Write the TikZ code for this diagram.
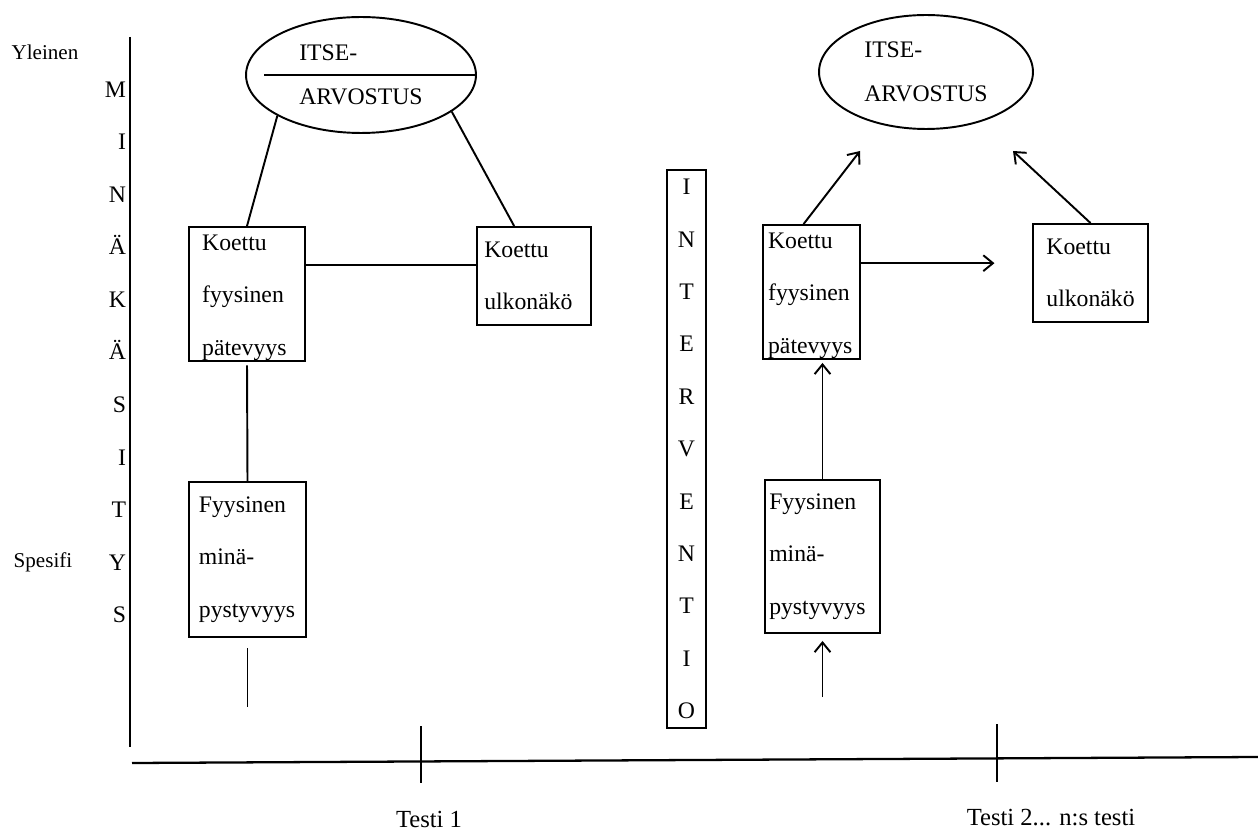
\documentclass[tikz,border=0pt]{standalone}
\usepackage{fontspec}
\setmainfont{Liberation Serif}
\usetikzlibrary{arrows.meta, calc, shapes.geometric}

\newcommand\ylos{\rule{0pt}{13pt}}

\begin{document}
\begin{tikzpicture}[x=0.02cm, y=-0.02cm, line width=1.1pt,
    kotelo/.style={draw, rectangle, align=left, inner ysep=0pt, font=\fontsize{13.5}{29.8}\selectfont},
    soikio/.style={draw, ellipse, inner sep=0pt, align=left, font=\fontsize{13.5}{25}\selectfont},
    nuoli/.style={-{Straight Barb[length=5.5pt, width=9pt]}}]

    \useasboundingbox (0,0) rectangle (1258,834);

    % akselit
    \coordinate (yla) at (130,37);
    \coordinate (ala) at (130,747);
    \draw[line width=1.2pt] (yla) -- (ala);
    \coordinate (vasen) at (132,763);
    \coordinate (oikea) at (1258,757);
    \draw[line width=1.3pt] (vasen) -- (oikea);
    \draw (421,726) -- (421,783);
    \draw (997,724) -- (997,782);

    \node (yleinen) at (45,52) {\fontsize{12}{14}\selectfont Yleinen};
    \node (spesifi) at (43,562) {\fontsize{12}{14}\selectfont Spesifi};
    \node (testi1) at (429,819) {\fontsize{14}{16}\selectfont Testi 1};
    \node (testi2) at (1051,818) {\fontsize{14}{16}\selectfont Testi 2... n:s testi};

    \foreach \kirjain [count=\i from 0] in {M,I,N,Ä,K,Ä,S,I,T,Y,S}
        \node[anchor=base east, inner sep=0pt, font=\fontsize{13.5}{16}\selectfont] (kirjain\i) at (127,{97.5+52.5*\i}) {\kirjain};

    \node[kotelo, align=center, text width=22pt, inner xsep=0pt, minimum height=11.16cm] (interventio) at (686.5,449) {I\\N\\T\\E\\R\\V\\E\\N\\T\\I\\O};

    % testi 1
    \node[soikio, minimum width=4.6cm, minimum height=2.32cm] (itseL) at (361,75) {ITSE-\\ARVOSTUS};
    \draw ($(itseL.west)+(19,0)$) -- (itseL.east);

    \node[kotelo, text width=51pt, inner xsep=7.4pt, minimum height=2.68cm] (koettuL) at (247,294) {\ylos Koettu\\fyysinen\\pätevyys};
    \node[kotelo, text width=56.6pt, inner xsep=4pt, minimum height=1.96cm] (ulkoL) at (534,276) {Koettu\\ulkonäkö};
    \node[kotelo, text width=55.3pt, inner xsep=5.5pt, minimum height=3.1cm] (minaL) at (247.5,559.5) {Fyysinen\\minä-\\pystyvyys};

    \draw (itseL.206) -- (koettuL.north);
    \draw (itseL.338) -- ([xshift=-11.3pt]ulkoL.north);
    \draw ([yshift=16.4pt]koettuL.east) -- ([yshift=16.4pt]koettuL.east -| ulkoL.west);
    \draw[shorten <=2pt] (koettuL.south) -- (minaL.north);
    \coordinate (loppuL) at (247.5,707);
    \draw[shorten <=6pt] (minaL.south) -- (loppuL);

    % testi 2
    \node[soikio, minimum width=4.28cm, minimum height=2.28cm] (itseR) at (926,72) {ITSE-\\ARVOSTUS};

    \node[kotelo, text width=49.4pt, inner xsep=2.8pt, minimum height=2.68cm] (koettuR) at (811.5,292) {\ylos Koettu\\fyysinen\\pätevyys};
    \node[kotelo, text width=50.2pt, inner xsep=7.5pt, minimum height=1.96cm] (ulkoR) at (1090.5,273) {Koettu\\ulkonäkö};
    \node[kotelo, text width=60.6pt, inner xsep=2.3pt, minimum height=3.06cm] (minaR) at (822.5,556.5) {Fyysinen\\minä-\\pystyvyys};

    \coordinate (karki1) at (860,151);
    \coordinate (karki2) at (1013,151);
    \draw[nuoli] ([xshift=-4.5pt]koettuR.north) -- (karki1);
    \draw[nuoli] (ulkoR.north) -- (karki2);
    \draw[nuoli, shorten >=21.5pt] ([yshift=16.4pt]koettuR.east) -- ([yshift=16.4pt]koettuR.east -| ulkoR.west);
    \draw[nuoli, shorten >=1.7pt] (minaR.north) -- (minaR.north |- koettuR.south);
    \coordinate (alkuR) at (822.5,697);
    \draw[nuoli, shorten >=4pt] (alkuR) -- (minaR.south);
\end{tikzpicture}
\end{document}
